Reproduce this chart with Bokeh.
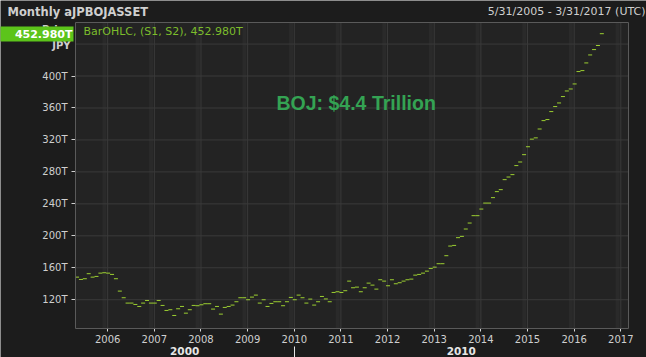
import pandas as pd
from bokeh.plotting import figure
from bokeh.models import (Range1d, FixedTicker, LinearAxis, Label, BoxAnnotation,
                          ColumnDataSource, PrintfTickFormatter)
from bokeh.embed import file_html
from bokeh.resources import INLINE

# ---- data (trillion JPY, month-end, starting May 2005) ----
start_month = "2005-05"
asset_trillion_jpy = [
    148.3, 145.4, 146.3, 152.6, 148.3, 149.2, 153.3, 153.8, 153.3, 151.7,
    146.3, 130.8, 122.5, 115.8, 115.8, 114.1, 111.6, 115.8, 119.1, 115.8,
    115.8, 119.1, 112.9, 106.6, 107.5, 100.3, 108.7, 111.6, 103.2, 107.5,
    112.9, 112.5, 113.7, 115.0, 115.0, 108.3, 111.6, 102.0, 110.4, 111.6,
    113.3, 117.5, 122.5, 122.5, 120.0, 123.3, 125.8, 115.8, 120.0, 111.6,
    115.4, 117.5, 117.5, 112.5, 117.5, 122.9, 120.0, 125.8, 122.5, 115.8,
    120.8, 113.3, 117.5, 124.1, 121.0, 117.5, 129.1, 130.0, 129.1, 131.3,
    143.3, 135.0, 135.8, 130.0, 135.0, 140.8, 138.3, 133.3, 145.0, 143.3,
    137.5, 145.0, 140.0, 141.3, 143.3, 145.0, 145.8, 150.8, 151.7, 153.3,
    155.8, 159.2, 160.8, 165.1, 165.1, 175.1, 187.2, 188.0, 197.7, 199.3,
    208.5, 216.0, 225.2, 225.2, 233.5, 241.0, 241.0, 247.8, 255.3, 257.8,
    270.3, 273.6, 276.6, 287.9, 292.4, 301.6, 311.5, 321.0, 322.6, 333.7,
    344.2, 345.5, 355.5, 361.8, 366.3, 374.3, 381.3, 383.8, 390.1, 405.6,
    406.8, 416.4, 426.4, 433.1, 438.2, 452.98,
]
year_ticks = list(range(2006, 2018))
price_ticks = [120, 160, 200, 240, 280, 320, 360, 400]
grid_levels = [120, 160, 200, 240, 280, 320, 360, 400, 440]
decade_starts = [2000, 2010]

title_text = "Monthly aJPBOJASSET"
range_text = "5/31/2005 - 3/31/2017 (UTC)"
series_text = "BarOHLC, (S1, S2), 452.980T"
last_value_text = "452.980T"
annotation_text = "BOJ: $4.4 Trillion"
price_label = "Price"
unit_label = "JPY"

dates = pd.date_range(start_month, periods=len(asset_trillion_jpy), freq="MS")
xs = list(dates.year + (dates.month - 1) / 12.0 + 0.01)
src = ColumnDataSource(dict(x=xs, y=asset_trillion_jpy))

# ---- geometry ----
W, H = 646, 357
FL, FR, FT, FB = 75, 628, 22, 328        # inner plot area (pixels)
X0, X1 = 2005.31, 2017.165               # visible years in plot area
Y0, Y1 = 84, 467                         # visible values in plot area
kx = (X1 - X0) / (FR - FL)
ky = (Y1 - Y0) / (FB - FT)
XA, XB = X0 - FL * kx, X1 + (W - FR) * kx
YA, YB = Y0 - (H - FB) * ky, Y1 + FT * ky


def px(cx):
    return XA + cx * kx


def py(cy):
    return YB - cy * ky


BG = "#1c1c1c"
p = figure(width=W, height=H, x_range=Range1d(XA, XB), y_range=Range1d(YA, YB),
           output_backend="svg", toolbar_location=None,
           x_axis_type=None, y_axis_type=None,
           min_border_left=0, min_border_right=0, min_border_top=0, min_border_bottom=0,
           background_fill_color=BG, border_fill_color=BG, outline_line_color=None)
p.grid.visible = False

FONT = "DejaVu Sans"
LABEL_C = "#cfcfcf"

# plot area background
p.add_layout(BoxAnnotation(left=X0, right=X1, bottom=Y0, top=Y1, fill_color="#232323",
                           fill_alpha=1.0, line_color=None, level="underlay"))

# grid lines
p.segment(x0=[t - 0.07 for t in year_ticks], x1=[t - 0.07 for t in year_ticks],
          y0=Y0, y1=Y1, line_color="#2a2a2a", line_width=4)
p.segment(x0=year_ticks, x1=year_ticks, y0=Y0, y1=Y1, line_color="#3a3a3a", line_width=1)
p.segment(x0=X0, x1=X1, y0=grid_levels, y1=grid_levels, line_color="#3a3a3a", line_width=1)

# data marks
p.scatter("x", "y", source=src, marker="dash", size=4, line_color="#9ccf31", line_width=1)

# plot area outline
p.add_layout(BoxAnnotation(left=X0, right=X1, bottom=Y0, top=Y1, fill_color=None,
                           line_color="#5a5a5a", line_width=1, line_alpha=1.0, level="overlay"))

# y axis
yaxis = LinearAxis(fixed_location=X0, bounds=(Y0, Y1),
                   ticker=FixedTicker(ticks=price_ticks, minor_ticks=[]),
                   formatter=PrintfTickFormatter(format="%dT"),
                   major_label_text_color=LABEL_C, major_label_text_font=FONT,
                   major_label_text_font_size="10px", major_tick_out=4, major_tick_in=0,
                   major_tick_line_color=LABEL_C, axis_line_color=None,
                   minor_tick_line_color=None, major_label_standoff=4)
p.add_layout(yaxis, "left")

# year axis
xaxis = LinearAxis(fixed_location=Y0, bounds=(X0, X1),
                   ticker=FixedTicker(ticks=year_ticks, minor_ticks=[]),
                   formatter=PrintfTickFormatter(format="%d"),
                   major_label_text_color=LABEL_C, major_label_text_font=FONT,
                   major_label_text_font_size="10px", major_tick_out=3, major_tick_in=0,
                   major_tick_line_color="#d8d8d8", axis_line_color=None,
                   minor_tick_line_color=None, major_label_standoff=3)
p.add_layout(xaxis, "below")

# decade axis
d_mid0 = round((X0 + decade_starts[1]) / 2, 2)
d_mid1 = round((decade_starts[1] + X1) / 2, 2)
daxis = LinearAxis(fixed_location=py(346),
                   ticker=FixedTicker(ticks=[d_mid0, d_mid1], minor_ticks=[]),
                   major_label_overrides={d_mid0: str(decade_starts[0]), d_mid1: str(decade_starts[1])},
                   major_label_text_color="#e6e6e6", major_label_text_font=FONT,
                   major_label_text_font_style="bold", major_label_text_font_size="10.5px",
                   major_tick_line_color=None, major_tick_out=0, major_tick_in=0,
                   minor_tick_line_color=None, axis_line_color=None, major_label_standoff=0)
p.add_layout(daxis, "below")

# decade separator tick
saxis = LinearAxis(fixed_location=py(346),
                   ticker=FixedTicker(ticks=[decade_starts[1]], minor_ticks=[]),
                   major_label_overrides={decade_starts[1]: ""},
                   major_tick_line_color="#e6e6e6", major_tick_out=12, major_tick_in=0,
                   minor_tick_line_color=None, axis_line_color=None)
p.add_layout(saxis, "below")


def lab(text, cx, cy, **kw):
    p.add_layout(Label(x=px(cx), y=py(cy), text=text, text_baseline="middle", **kw))


lab(title_text, 7, 11, text_align="left", text_font=FONT, text_font_style="bold",
    text_font_size="11.5px", text_color=LABEL_C)
lab(range_text, 645, 11, text_align="right", text_font=FONT,
    text_font_size="11px", text_color=LABEL_C)
lab(price_label, 70, 29, text_align="right", text_font=FONT, text_font_style="bold",
    text_font_size="10px", text_color=LABEL_C)
lab(unit_label, 70, 45, text_align="right", text_font=FONT, text_font_style="bold",
    text_font_size="10px", text_color=LABEL_C)
lab(last_value_text, 73, 33.5, text_align="right", text_font=FONT, text_font_style="bold",
    text_font_size="11px", text_color="#ffffff", background_fill_color="#5cc41a",
    padding=dict(left=16, right=1, top=1, bottom=1))
lab(series_text, 83, 31, text_align="left", text_font=FONT,
    text_font_size="11px", text_color="#7cbd2c")
lab(annotation_text, 276, 102, text_align="left", text_font="Liberation Sans",
    text_font_style="bold", text_font_size="19.5px", text_color="#34a353")

open("out.html", "w").write(file_html(p, INLINE))
